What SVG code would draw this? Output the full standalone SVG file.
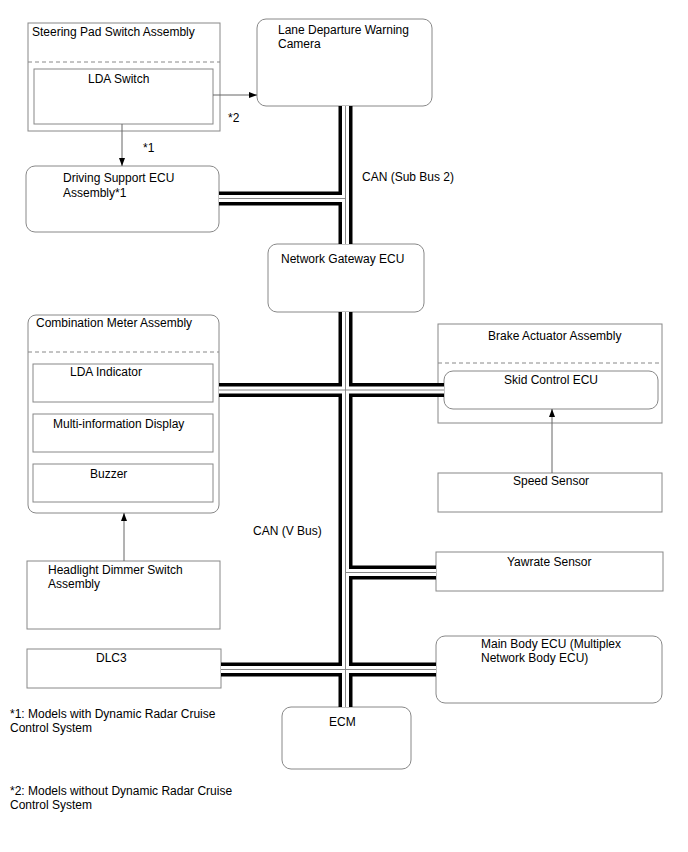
<svg xmlns="http://www.w3.org/2000/svg" width="688" height="852" viewBox="0 0 688 852">
<style>
text{font-family:"Liberation Sans",Arial,sans-serif;font-size:12px;fill:#000}
.box{fill:#fff;stroke:#888;stroke-width:1}
.dash{stroke:#888;stroke-width:1;stroke-dasharray:4,3;fill:none}
.arr{stroke:#666;stroke-width:1;fill:none;marker-end:url(#ah)}
.bk{stroke:#000;stroke-width:14;fill:none}
.wh{stroke:#fff;stroke-width:7;fill:none}
.gr{stroke:#888;stroke-width:1;fill:none}
</style>
<defs>
<marker id="ah" markerUnits="userSpaceOnUse" markerWidth="9" markerHeight="7" refX="8" refY="3" orient="auto">
<path d="M0,0 L8,3 L0,6 z" fill="#000"/>
</marker>
<path id="bus" d="M345.5,106 V244 M345.5,312 V707 M219,198.5 H345.5 M219,390 H444 M345.5,572.5 H436 M221,669.5 H436"/>
</defs>
<rect width="688" height="852" fill="#fff"/>
<g id="steering-pad">
<rect class="box" x="28" y="23" width="192" height="108"/>
<text x="32" y="36">Steering Pad Switch Assembly</text>
<line class="dash" x1="28" y1="62" x2="220" y2="62"/>
</g>
<g id="lda-switch">
<rect class="box" x="34" y="69" width="179" height="55"/>
<text x="88" y="83">LDA Switch</text>
</g>
<g id="camera">
<rect class="box" x="257" y="19" width="175" height="87" rx="9"/>
<text x="278" y="34">Lane Departure Warning</text>
<text x="278" y="48">Camera</text>
</g>
<g id="labels">
<text x="228" y="122">*2</text>
<text x="143" y="152">*1</text>
<text x="362" y="181">CAN (Sub Bus 2)</text>
<text x="253" y="535">CAN (V Bus)</text>
<text x="10" y="718">*1: Models with Dynamic Radar Cruise</text>
<text x="10" y="732">Control System</text>
<text x="10" y="795">*2: Models without Dynamic Radar Cruise</text>
<text x="10" y="809">Control System</text>
</g>
<g id="driving-support">
<rect class="box" x="26" y="166" width="193" height="66" rx="9"/>
<text x="63" y="182">Driving Support ECU</text>
<text x="63" y="197">Assembly*1</text>
</g>
<g id="gateway">
<rect class="box" x="268" y="244" width="156" height="68" rx="9"/>
<text x="281" y="263">Network Gateway ECU</text>
</g>
<g id="combination-meter">
<rect class="box" x="28" y="315" width="191" height="198" rx="8"/>
<text x="36" y="327">Combination Meter Assembly</text>
<line class="dash" x1="28" y1="352" x2="219" y2="352"/>
</g>
<g id="lda-indicator">
<rect class="box" x="33" y="364" width="180" height="38"/>
<text x="70" y="376">LDA Indicator</text>
</g>
<g id="multi-info">
<rect class="box" x="33" y="414" width="180" height="38"/>
<text x="53" y="428">Multi-information Display</text>
</g>
<g id="buzzer">
<rect class="box" x="33" y="464" width="180" height="38"/>
<text x="90" y="478">Buzzer</text>
</g>
<g id="headlight">
<rect class="box" x="27" y="561" width="193" height="68"/>
<text x="48" y="574">Headlight Dimmer Switch</text>
<text x="48" y="588">Assembly</text>
</g>
<g id="dlc3">
<rect class="box" x="27" y="649" width="194" height="39"/>
<text x="96" y="662">DLC3</text>
</g>
<g id="brake-actuator">
<rect class="box" x="438" y="324" width="224" height="99"/>
<text x="488" y="340">Brake Actuator Assembly</text>
<line class="dash" x1="438" y1="363" x2="662" y2="363"/>
</g>
<g id="skid-control">
<rect class="box" x="444" y="371" width="214" height="38" rx="9"/>
<text x="504" y="384">Skid Control ECU</text>
</g>
<g id="speed-sensor">
<rect class="box" x="438" y="473" width="224" height="39"/>
<text x="513" y="485">Speed Sensor</text>
</g>
<g id="yawrate">
<rect class="box" x="436" y="552" width="227" height="39"/>
<text x="507" y="566">Yawrate Sensor</text>
</g>
<g id="main-body">
<rect class="box" x="436" y="636" width="226" height="67" rx="9"/>
<text x="481" y="648">Main Body ECU (Multiplex</text>
<text x="481" y="662">Network Body ECU)</text>
</g>
<g id="ecm">
<rect class="box" x="282" y="707" width="129" height="62" rx="9"/>
<text x="329" y="726">ECM</text>
</g>
<g id="connectors">
<use href="#bus" class="bk"/>
<use href="#bus" class="wh"/>
<use href="#bus" class="gr"/>
<line class="arr" x1="213" y1="95" x2="257" y2="95"/>
<line class="arr" x1="122" y1="124" x2="122" y2="166"/>
<line class="arr" x1="124" y1="561" x2="124" y2="513"/>
<line class="arr" x1="552" y1="473" x2="552" y2="409"/>
</g>
</svg>
